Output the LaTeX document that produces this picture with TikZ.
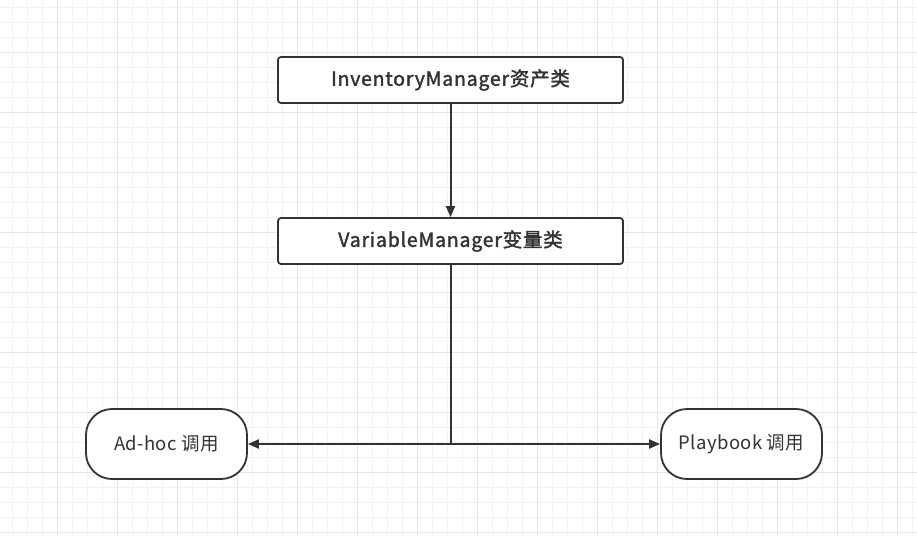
\documentclass[tikz,border=0pt]{standalone}
\usepackage{fontspec}
\setmainfont{Noto Sans CJK SC}
\newfontfamily\medfont{Noto Sans CJK SC}[FakeBold=1.8,LetterSpace=4]
\newfontfamily\regfont{Noto Sans CJK SC}[LetterSpace=2]
\usetikzlibrary{arrows.meta}
\definecolor{ink}{HTML}{333333}
\definecolor{gridminor}{HTML}{F2F2F2}
\definecolor{gridmajor}{HTML}{E6E6E6}
\tikzset{
  minorline/.style={draw=gridminor,line width=0.9pt},
  majorline/.style={draw=gridmajor,line width=1pt},
  boxnode/.style={draw=ink,line width=1.8pt,rounded corners=3pt,minimum width=345pt,minimum height=46pt,inner sep=0pt,font=\medfont\fontsize{19.5}{22}\selectfont,text=ink,fill=white},
  termnode/.style={draw=ink,line width=1.8pt,rounded corners=26pt,minimum width=161pt,minimum height=70pt,inner sep=0pt,font=\regfont\fontsize{18.5}{21}\selectfont,text=ink,fill=white},
  conn/.style={draw=ink,line width=2pt},
  arr/.style={conn,-{Triangle[length=11pt,width=9pt]}}
}
\begin{document}
\begin{tikzpicture}[x=1pt,y=-1pt]
\useasboundingbox (0,0) rectangle (917,536);
\fill[white] (0,0) rectangle (917,536);
\foreach \x in {12,27,...,912} \draw[minorline] (\x,0) -- (\x,536);
\foreach \y in {7,22,...,532} \draw[minorline] (0,\y) -- (917,\y);
\foreach \x in {57,117,...,897} \draw[majorline] (\x,0) -- (\x,536);
\foreach \y in {52,112,...,532} \draw[majorline] (0,\y) -- (917,\y);
\node[boxnode] (inv) at (450.5,80) {InventoryManager资产类};
\node[boxnode] (var) at (450.5,241) {VariableManager变量类};
\node[termnode] (adhoc) at (166.5,444) {Ad-hoc 调用};
\node[termnode] (play) at (741.5,444) {Playbook 调用};
\coordinate (j) at (var.south |- adhoc.east);
\draw[arr] (inv) -- (var);
\draw[conn] (var.south) -- (j);
\draw[arr] (j) -- (adhoc);
\draw[arr] (j) -- (play);
\end{tikzpicture}
\end{document}
